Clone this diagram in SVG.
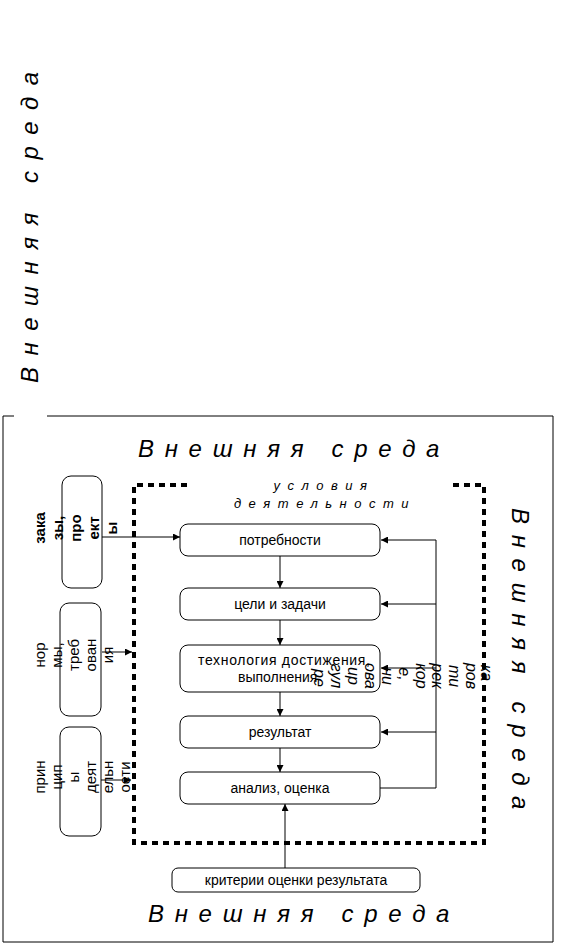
<svg xmlns="http://www.w3.org/2000/svg" width="565" height="945" viewBox="0 0 565 945">
<style>
text{font-family:"Liberation Sans",Arial,sans-serif;fill:#000}
.big{font-size:24px;font-style:italic;letter-spacing:10.7px}
.sp{font-size:13px;font-style:italic;letter-spacing:7.5px}
.reg{font-size:16px;font-style:italic;text-anchor:middle}
.t{font-size:14px;text-anchor:middle}
.lb{font-size:15px;text-anchor:middle}
.b{font-weight:bold}
.box{fill:#fff;stroke:#000;stroke-width:1}
.ln{fill:none;stroke:#000;stroke-width:1}
.dash{fill:none;stroke:#000;stroke-width:4;stroke-dasharray:6 5}
</style>
<defs>
<marker id="ah" viewBox="0 0 10 10" refX="10" refY="5" markerWidth="8" markerHeight="7" markerUnits="userSpaceOnUse" orient="auto"><path d="M0,0 L10,5 L0,10 z" fill="#000"/></marker>
</defs>
<rect width="565" height="945" fill="#fff"/>
<g id="frame">
<path class="ln" d="M3,416 H14 M47,416 H553 V942 H3 V416"/>
</g>
<g id="env-texts">
<text class="big" style="letter-spacing:11.5px" transform="translate(38,383) rotate(-90)">Внешняя среда</text>
<text class="big" x="138" y="457">Внешняя среда</text>
<text class="big" transform="translate(512,508) rotate(90)">Внешняя среда</text>
<text class="big" x="148" y="922">Внешняя среда</text>
</g>
<g id="conditions">
<path class="dash" d="M187,485 H134 V843 H484 V485 H452"/>
<text class="sp" x="324" y="490" text-anchor="middle">условия</text>
<text class="sp" x="325" y="508" text-anchor="middle">деятельности</text>
</g>
<g id="connectors">
<path class="ln" d="M97,537 H180" marker-end="url(#ah)"/>
<path class="ln" d="M102,652 H132" marker-end="url(#ah)"/>
<path class="ln" d="M100,780 H131" marker-end="url(#ah)"/>
<path class="ln" d="M280,556 V588" marker-end="url(#ah)"/>
<path class="ln" d="M280,620 V645" marker-end="url(#ah)"/>
<path class="ln" d="M280,692 V716" marker-end="url(#ah)"/>
<path class="ln" d="M280,748 V772" marker-end="url(#ah)"/>
<path class="ln" d="M285,868 V804" marker-end="url(#ah)"/>
<path class="ln" d="M380,788 H436 V540"/>
<path class="ln" d="M436,540 H381" marker-end="url(#ah)"/>
<path class="ln" d="M436,604 H381" marker-end="url(#ah)"/>
<path class="ln" d="M436,668 H381" marker-end="url(#ah)"/>
<path class="ln" d="M436,732 H381" marker-end="url(#ah)"/>
</g>
<g id="n-zakazy">
<rect class="box" x="62" y="476" width="40" height="112" rx="9"/>
<text class="lb b" transform="rotate(-90)">
<tspan x="-528" y="45">зака</tspan><tspan x="-528" y="63">зы,</tspan><tspan x="-528" y="81">про</tspan><tspan x="-528" y="99">ект</tspan><tspan x="-528" y="117">ы</tspan>
</text>
</g>
<g id="n-normy">
<rect class="box" x="60" y="603" width="41" height="113" rx="9"/>
<text class="lb" transform="rotate(-90)">
<tspan x="-655" y="45">нор</tspan><tspan x="-655" y="62">мы,</tspan><tspan x="-655" y="79">треб</tspan><tspan x="-655" y="96">ован</tspan><tspan x="-655" y="113">ия</tspan>
</text>
</g>
<g id="n-principy">
<rect class="box" x="60" y="727" width="41" height="109" rx="9"/>
<text class="lb" transform="rotate(-90)">
<tspan x="-777" y="45">прин</tspan><tspan x="-777" y="62">цип</tspan><tspan x="-777" y="79">ы</tspan><tspan x="-777" y="96">деят</tspan><tspan x="-777" y="113">ельн</tspan><tspan x="-777" y="130">ости</tspan>
</text>
</g>
<g id="n-potrebnosti">
<rect class="box" x="180" y="524" width="200" height="32" rx="8"/>
<text class="t" x="280" y="545">потребности</text>
</g>
<g id="n-celi">
<rect class="box" x="180" y="588" width="200" height="32" rx="8"/>
<text class="t" x="280" y="609">цели и задачи</text>
</g>
<g id="n-tehnologiya">
<rect class="box" x="180" y="645" width="200" height="47" rx="8"/>
<text class="t" x="198" y="665" style="text-anchor:start" textLength="172" lengthAdjust="spacing">технология достижения,</text>
<text class="t" x="238" y="682" style="text-anchor:start">выполнения</text>
</g>
<g id="n-rezultat">
<rect class="box" x="180" y="716" width="200" height="32" rx="8"/>
<text class="t" x="280" y="737">результат</text>
</g>
<g id="n-analiz">
<rect class="box" x="180" y="772" width="200" height="32" rx="8"/>
<text class="t" x="280" y="793">анализ, оценка</text>
</g>
<g id="n-kriterii">
<rect class="box" x="172" y="868" width="248" height="24" rx="6"/>
<text class="t" x="296" y="885">критерии оценки результата</text>
</g>
<g id="regulation">
<text class="reg" transform="rotate(90)">
<tspan x="678" y="-314">ре</tspan><tspan x="676" y="-331">гул</tspan><tspan x="676" y="-348">ир</tspan><tspan x="676" y="-365">ова</tspan><tspan x="676" y="-382">ни</tspan><tspan x="674" y="-399">е,</tspan><tspan x="676" y="-416">кор</tspan><tspan x="676" y="-432">рек</tspan><tspan x="676" y="-449">ти</tspan><tspan x="676" y="-466">ров</tspan><tspan x="673" y="-481">ка</tspan>
</text>
</g>
</svg>
